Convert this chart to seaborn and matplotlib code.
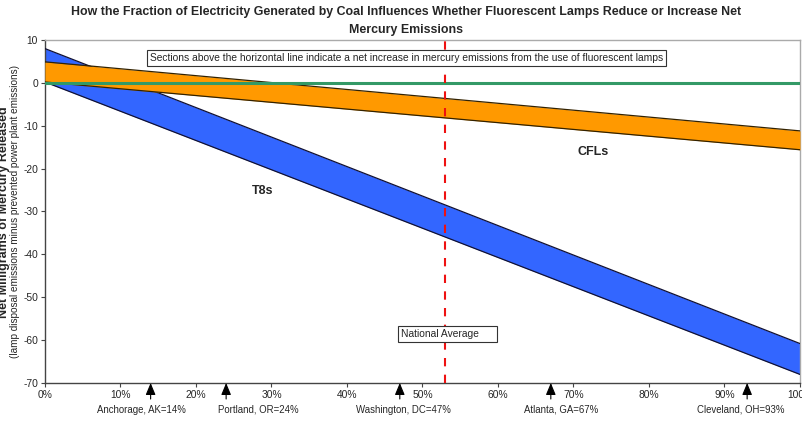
import numpy as np
import pandas as pd
import seaborn as sns
import matplotlib
matplotlib.use("Agg")
import matplotlib.pyplot as plt

# ---- data ----
coal_pct = [0, 100]
t8_upper = [8.0, -60.8]
t8_lower = [0.2, -68.0]
cfl_upper = [4.9, -11.2]
cfl_lower = [0.2, -15.6]
national_average = 53
cities = ["Anchorage, AK=14%", "Portland, OR=24%", "Washington, DC=47%",
          "Atlanta, GA=67%", "Cleveland, OH=93%"]
city_pct = [14, 24, 47, 67, 93]
x_ticks = [0, 10, 20, 30, 40, 50, 60, 70, 80, 90, 100]
y_ticks = [10, 0, -10, -20, -30, -40, -50, -60, -70]

sns.set_theme(style="white")
plt.rcParams['font.family'] = ['Liberation Sans', 'DejaVu Sans']

fig = plt.figure(figsize=(8.02, 4.24), dpi=100)
ax = fig.add_axes([0.056, 0.0967, 0.9415, 0.809])

df = pd.DataFrame({"x": coal_pct, "t8u": t8_upper, "t8l": t8_lower,
                   "cu": cfl_upper, "cl": cfl_lower})

ax.fill_between(df["x"], df["t8l"], df["t8u"], color="#3366FF", zorder=2, linewidth=0)
sns.lineplot(data=df, x="x", y="t8u", ax=ax, color="#111133", lw=0.9, zorder=3)
sns.lineplot(data=df, x="x", y="t8l", ax=ax, color="#111133", lw=0.9, zorder=3)
ax.fill_between(df["x"], df["cl"], df["cu"], color="#FF9900", zorder=4, linewidth=0)
sns.lineplot(data=df, x="x", y="cu", ax=ax, color="#332200", lw=0.9, zorder=5)
sns.lineplot(data=df, x="x", y="cl", ax=ax, color="#332200", lw=0.9, zorder=5)

ax.axhline(0, color="#339966", lw=2.2, zorder=6)
ax.axvline(national_average, color="#EE1111", lw=1.5, ls=(0, (4, 4)), zorder=7)

ax.set_xlim(0, 100)
ax.set_ylim(-70, 10)
ax.set_xticks(x_ticks)
ax.set_xticklabels([f"{t}%" for t in x_ticks], fontsize=7.4)
ax.set_yticks(y_ticks)
ax.set_yticklabels([str(t) for t in y_ticks], fontsize=7.4)
ax.tick_params(axis="both", direction="out", length=3, width=0.8, color="#444444",
               pad=2, bottom=True, left=True)
ax.set_xlabel("")
ax.set_ylabel("")
for s in ["left", "bottom"]:
    ax.spines[s].set_color("#444444")
    ax.spines[s].set_linewidth(1.0)
for s in ["top", "right"]:
    ax.spines[s].set_color("#AAAAAA")
    ax.spines[s].set_linewidth(1.0)

ax.text(13.9, 5.8, "Sections above the horizontal line indicate a net increase in mercury emissions from the use of fluorescent lamps",
        fontsize=7.4, va="center", ha="left", zorder=10,
        bbox=dict(boxstyle="square,pad=0.25", fc="white", ec="#333333", lw=0.8))
ax.text(47.2, -58.6, "National Average     ", fontsize=7.4, va="center", ha="left", zorder=10,
        bbox=dict(boxstyle="square,pad=0.3", fc="white", ec="#333333", lw=0.8))
ax.text(70.5, -16.2, "CFLs", fontsize=9, fontweight="bold", ha="left", va="center", zorder=10)
ax.text(27.4, -25.2, "T8s", fontsize=9, fontweight="bold", ha="left", va="center", zorder=10)

label_shift = [-1.2, 4.3, 0.5, 1.4, -0.8]
for name, p, sh in zip(cities, city_pct, label_shift):
    ax.annotate("", xy=(p, -70), xycoords="data", xytext=(0, -16), textcoords="offset pixels",
                arrowprops=dict(arrowstyle="-|>,head_width=0.25,head_length=0.6",
                                color="black", lw=0.8, shrinkA=0, shrinkB=0),
                annotation_clip=False)
    ax.annotate(name, xy=(p + sh, -70), xycoords="data", xytext=(0, -27),
                textcoords="offset pixels", ha="center", va="center", fontsize=6.9,
                annotation_clip=False)

fig.text(0.506, 0.972, "How the Fraction of Electricity Generated by Coal Influences Whether Fluorescent Lamps Reduce or Increase Net",
         ha="center", va="center", fontsize=8.9, fontweight="bold")
fig.text(0.506, 0.929, "Mercury Emissions", ha="center", va="center", fontsize=8.9, fontweight="bold")

fig.text(0.005, 0.5, "Net Milligrams of Mercury Released", rotation=90, ha="center", va="center",
         fontsize=9, fontweight="bold")
fig.text(0.019, 0.5, "(lamp disposal emissions minus prevented power plant emissions)", rotation=90,
         ha="center", va="center", fontsize=7.2)

fig.savefig("out.png", dpi=100)
